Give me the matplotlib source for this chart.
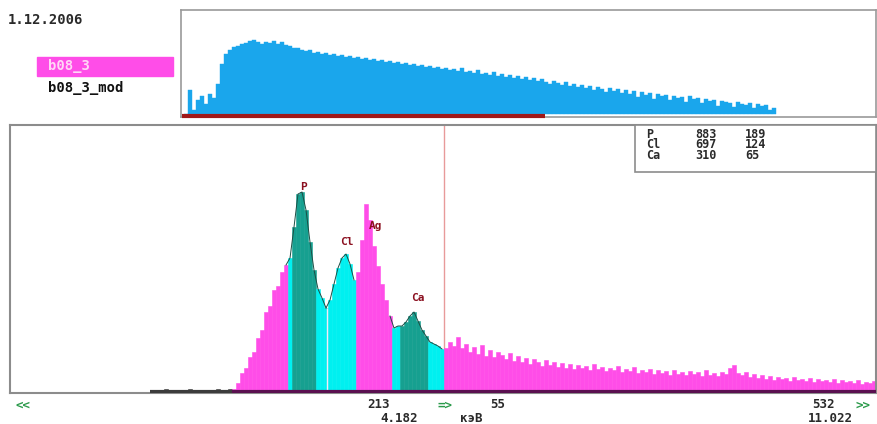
import matplotlib.pyplot as plt
import numpy as np
from matplotlib.patches import Rectangle

W, H = 877, 424

# main spectrum, counts per 4-channel group, energy in keV
e_start = -0.378
e_step = 0.06333
counts = [
    2, 2, 3, 2, 2, 2, 2, 2, 3, 2, 2, 2, 2, 2, 2, 3, 2, 2, 3,
    3, 9, 19, 24, 35, 40, 54, 62, 80, 86, 102, 106, 120, 127,
    134, 165, 198, 200, 182, 150, 122, 103, 94, 84,
    92, 108, 124, 134, 138, 128, 112,
    120, 152, 188, 172, 146, 126, 108, 92, 76,
    64, 66, 66, 70, 76, 80, 71, 62, 56, 50, 48, 46, 43, 44,
    50, 46, 55, 44, 48, 40, 45, 38, 47, 36,
    42, 35, 40, 37, 33, 39, 31, 36, 30, 34,
    28, 33, 30, 26, 32, 27, 30, 25, 29, 24,
    28, 23, 27, 24, 26, 22, 28, 23, 25, 21,
    24, 22, 26, 20, 23, 21, 25, 19, 22, 20,
    23, 18, 22, 19, 21, 17, 22, 18, 20, 17,
    21, 18, 20, 16, 22, 17, 19, 16, 20, 18,
    24, 27, 19, 17, 20, 15, 18, 14, 17, 13,
    16, 12, 15, 13, 14, 11, 15, 12, 13, 11,
    14, 10, 13, 11, 12, 10, 13, 9, 12, 10,
    11, 9, 12, 8, 10, 9, 11,
]
dark_end = 0.825
roi_outer = [(1.712, 2.314), (2.345, 2.789), (3.359, 4.182)]
roi_inner = [(1.775, 2.155), (3.485, 3.929)]
peak_names = ['P', 'Cl', 'Ag', 'Ca']
peak_keV = [1.95, 2.65, 3.10, 3.77]
peak_label_y = [205, 150, 166, 94]
cursor_keV = 4.182
view_keV = (-2.690, 11.022)

# overview spectrum
overview = [
    0, 24, 4, 14, 18, 10, 20, 16, 30, 50,
    60, 64, 67, 68, 70, 71, 73, 74, 72, 70,
    72, 71, 73, 70, 72, 69, 68, 66, 66, 64,
    63, 64, 61, 62, 60, 61, 59, 60, 58, 59,
    57, 58, 56, 57, 55, 56, 54, 55, 53, 54,
    52, 53, 51, 52, 50, 51, 49, 50, 48, 49,
    47, 48, 46, 47, 45, 46, 44, 45, 43, 46,
    42, 43, 41, 44, 40, 41, 39, 42, 38, 40,
    37, 39, 36, 38, 35, 37, 34, 36, 33, 35,
    32, 30, 33, 31, 29, 32, 28, 30, 27, 29,
    26, 28, 24, 27, 25, 22, 26, 23, 25, 21,
    24, 20, 23, 17, 22, 19, 21, 15, 20, 18,
    19, 14, 18, 16, 17, 12, 18, 15, 16, 11,
    15, 13, 14, 8, 13, 12, 11, 7, 12, 10,
    9, 11, 6, 10, 8, 9, 4, 6,
]
view_bins = (-0.5, 90.25)

info_el = ['P', 'Cl', 'Ca']
info_a = [883, 697, 310]
info_b = [189, 124, 65]

pink = '#ff4de8'
cyan = '#00f0f0'
teal = '#16a090'
darkc = '#3c3c3c'
blue = '#1aa6ec'
txtc = '#2a2a2a'
green = '#2a9a4a'
mono = 'DejaVu Sans Mono'


def fx(px):
    return px / W


def fy(py):
    return 1 - py / H


fig = plt.figure(figsize=(W / 100, H / 100), dpi=100)

# main panel
ax = fig.add_axes([fx(10), fy(393), 866 / W, 268 / H])
left = e_start + e_step * np.arange(len(counts))
centers = left + e_step / 2
cols = []
for c in centers:
    if any(a <= c < b for a, b in roi_inner):
        cols.append(teal)
    elif any(a <= c < b for a, b in roi_outer):
        cols.append(cyan)
    elif c < dark_end:
        cols.append(darkc)
    else:
        cols.append(pink)
ax.axvline(cursor_keV, color='#e89a9a', lw=1, zorder=0.5)
ax.bar(left, counts, width=e_step, align='edge', color=cols,
       edgecolor=cols, linewidth=0.4, zorder=2)
ax.vlines(roi_outer[0][1] + 0.015, 0, counts[42], color='#f8e8f8', lw=1, zorder=3)

cnt = np.array(counts)
for a, b in roi_outer:
    m = (centers >= a - e_step) & (centers < b)
    ax.plot(centers[m], cnt[m], color='#1d4d44', lw=0.7, zorder=3)

ax.hlines(0, e_start - 0.1, dark_end, color=darkc, lw=3, zorder=4)
ax.hlines(0, dark_end, view_keV[1], color='#5a1050', lw=3, zorder=4)

for n, e, yv in zip(peak_names, peak_keV, peak_label_y):
    ax.text(e, yv, n, ha='center', va='center', family=mono, weight='bold',
            fontsize=8, color='#8b1020', zorder=5)

ax.set_xlim(*view_keV)
ax.set_ylim(-1, 267)
ax.set_xticks([])
ax.set_yticks([])
for s in ax.spines.values():
    s.set_color('#8c8c8c')
    s.set_linewidth(1.5)

# overview panel
ax2 = fig.add_axes([fx(181), fy(117), 695 / W, 107 / H])
ax2.bar(np.arange(len(overview)), overview, width=1, align='edge',
        color=blue, edgecolor=blue, linewidth=0.3)
ax2.hlines(-1.5, view_bins[0], view_bins[1], color='#a01818', lw=3,
           zorder=5, clip_on=False)
ax2.set_xlim(-0.75, 173)
ax2.set_ylim(-3, 104)
ax2.set_xticks([])
ax2.set_yticks([])
for s in ax2.spines.values():
    s.set_color('#9a9a9a')
    s.set_linewidth(1.2)

# labels top-left
fig.text(fx(8), fy(20), '1.12.2006', ha='left', va='center', family=mono,
         weight='bold', fontsize=10, color=txtc)
fig.add_artist(Rectangle((fx(37), fy(76)), 136 / W, 19 / H,
                         transform=fig.transFigure, color=pink, zorder=1))
fig.text(fx(48), fy(66), 'b08_3', ha='left', va='center', family=mono,
         weight='bold', fontsize=10, color='#ffd6f6', zorder=2)
fig.text(fx(48), fy(88), 'b08_3_mod', ha='left', va='center', family=mono,
         weight='bold', fontsize=10, color='#111111')

# info box: one text per column so rows sit tight
fig.add_artist(Rectangle((fx(635), fy(172)), (876 - 635) / W, 47 / H,
                         transform=fig.transFigure, facecolor='white',
                         edgecolor='#8c8c8c', lw=1.2, zorder=5))
columns = [info_el, [str(v) for v in info_a], [str(v) for v in info_b]]
for xx, col in zip([646, 695, 745], columns):
    fig.text(fx(xx), fy(145), '\n'.join(col), ha='left', va='center',
             family=mono, weight='bold', fontsize=8.5, linespacing=0.78,
             color=txtc, zorder=6)

# bottom readout
row1 = [(15, '<<', green), (367, '213', txtc), (437, '=>', green),
        (490, '55', txtc), (812, '532', txtc), (855, '>>', green)]
row2 = [(380, '4.182', txtc), (460, 'кэВ', txtc), (808, '11.022', txtc)]
for xx, s, c in row1:
    fig.text(fx(xx), fy(405), s, ha='left', va='center', family=mono,
             weight='bold', fontsize=9, color=c)
for xx, s, c in row2:
    fig.text(fx(xx), fy(418), s, ha='left', va='center', family=mono,
             weight='bold', fontsize=9, color=c)

fig.savefig('out.png', dpi=100)
